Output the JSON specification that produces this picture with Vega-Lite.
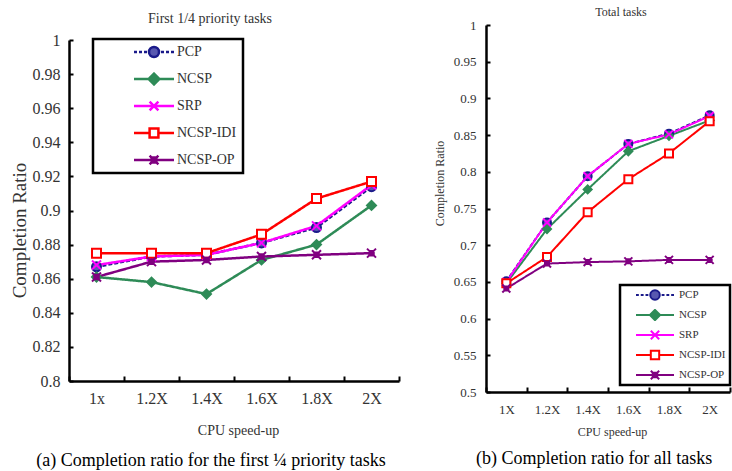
{
  "$schema": "https://vega.github.io/schema/vega-lite/v6.json",
  "padding": {"left": 10, "top": 6, "right": 0, "bottom": 0},
  "spacing": 33,
  "align": "each",
  "center": true,
  "datasets": {
    "a": [
      {"speed": "1x", "series": "PCP", "value": 0.867},
      {"speed": "1x", "series": "NCSP", "value": 0.861},
      {"speed": "1x", "series": "SRP", "value": 0.868},
      {"speed": "1x", "series": "NCSP-IDI", "value": 0.875},
      {"speed": "1x", "series": "NCSP-OP", "value": 0.861},
      {"speed": "1.2X", "series": "PCP", "value": 0.873},
      {"speed": "1.2X", "series": "NCSP", "value": 0.858},
      {"speed": "1.2X", "series": "SRP", "value": 0.873},
      {"speed": "1.2X", "series": "NCSP-IDI", "value": 0.875},
      {"speed": "1.2X", "series": "NCSP-OP", "value": 0.870},
      {"speed": "1.4X", "series": "PCP", "value": 0.874},
      {"speed": "1.4X", "series": "NCSP", "value": 0.851},
      {"speed": "1.4X", "series": "SRP", "value": 0.874},
      {"speed": "1.4X", "series": "NCSP-IDI", "value": 0.875},
      {"speed": "1.4X", "series": "NCSP-OP", "value": 0.871},
      {"speed": "1.6X", "series": "PCP", "value": 0.881},
      {"speed": "1.6X", "series": "NCSP", "value": 0.871},
      {"speed": "1.6X", "series": "SRP", "value": 0.881},
      {"speed": "1.6X", "series": "NCSP-IDI", "value": 0.886},
      {"speed": "1.6X", "series": "NCSP-OP", "value": 0.873},
      {"speed": "1.8X", "series": "PCP", "value": 0.890},
      {"speed": "1.8X", "series": "NCSP", "value": 0.880},
      {"speed": "1.8X", "series": "SRP", "value": 0.891},
      {"speed": "1.8X", "series": "NCSP-IDI", "value": 0.907},
      {"speed": "1.8X", "series": "NCSP-OP", "value": 0.874},
      {"speed": "2X", "series": "PCP", "value": 0.914},
      {"speed": "2X", "series": "NCSP", "value": 0.903},
      {"speed": "2X", "series": "SRP", "value": 0.915},
      {"speed": "2X", "series": "NCSP-IDI", "value": 0.917},
      {"speed": "2X", "series": "NCSP-OP", "value": 0.875}
    ],
    "b": [
      {"speed": "1X", "series": "PCP", "value": 0.651},
      {"speed": "1X", "series": "NCSP", "value": 0.648},
      {"speed": "1X", "series": "SRP", "value": 0.650},
      {"speed": "1X", "series": "NCSP-IDI", "value": 0.648},
      {"speed": "1X", "series": "NCSP-OP", "value": 0.641},
      {"speed": "1.2X", "series": "PCP", "value": 0.731},
      {"speed": "1.2X", "series": "NCSP", "value": 0.722},
      {"speed": "1.2X", "series": "SRP", "value": 0.731},
      {"speed": "1.2X", "series": "NCSP-IDI", "value": 0.684},
      {"speed": "1.2X", "series": "NCSP-OP", "value": 0.675},
      {"speed": "1.4X", "series": "PCP", "value": 0.794},
      {"speed": "1.4X", "series": "NCSP", "value": 0.776},
      {"speed": "1.4X", "series": "SRP", "value": 0.794},
      {"speed": "1.4X", "series": "NCSP-IDI", "value": 0.745},
      {"speed": "1.4X", "series": "NCSP-OP", "value": 0.677},
      {"speed": "1.6X", "series": "PCP", "value": 0.838},
      {"speed": "1.6X", "series": "NCSP", "value": 0.828},
      {"speed": "1.6X", "series": "SRP", "value": 0.838},
      {"speed": "1.6X", "series": "NCSP-IDI", "value": 0.790},
      {"speed": "1.6X", "series": "NCSP-OP", "value": 0.678},
      {"speed": "1.8X", "series": "PCP", "value": 0.852},
      {"speed": "1.8X", "series": "NCSP", "value": 0.849},
      {"speed": "1.8X", "series": "SRP", "value": 0.851},
      {"speed": "1.8X", "series": "NCSP-IDI", "value": 0.825},
      {"speed": "1.8X", "series": "NCSP-OP", "value": 0.680},
      {"speed": "2X", "series": "PCP", "value": 0.877},
      {"speed": "2X", "series": "NCSP", "value": 0.870},
      {"speed": "2X", "series": "SRP", "value": 0.876},
      {"speed": "2X", "series": "NCSP-IDI", "value": 0.869},
      {"speed": "2X", "series": "NCSP-OP", "value": 0.680}
    ]
  },
  "config": {
    "view": {"stroke": null},
    "font": "Liberation Serif",
    "axis": {"grid": false, "domainColor": "#000", "domainWidth": 2.5, "tickColor": "#000", "tickWidth": 2, "labelFont": "Liberation Serif", "titleFont": "Liberation Serif", "titleFontWeight": "normal", "labelColor": "#333", "titleColor": "#333"},
    "legend": {"strokeWidth": 2.5, "labelFont": "Liberation Serif", "labelColor": "#333"},
    "title": {"font": "Liberation Serif", "fontWeight": "normal"}
  },
  "hconcat": [
    {
      "title": {"text": "(a) Completion ratio for the first ¼  priority tasks", "orient": "bottom", "anchor": "middle", "frame": "bounds", "fontSize": 18, "font": "Liberation Serif", "color": "#000", "offset": 15, "dx": 6},
      "vconcat": [
        {
          "width": 330,
          "height": 341,
          "title": {"text": ["", "First 1/4 priority tasks"], "fontSize": 14, "font": "Liberation Serif", "lineHeight": 6, "offset": 6, "color": "#333", "anchor": "middle", "frame": "bounds", "dx": 5},
          "data": {"name": "a"},
          "encoding": {
            "x": {"field": "speed", "type": "nominal", "scale": {"domain": ["1x", "1.2X", "1.4X", "1.6X", "1.8X", "2X"]},
              "axis": {"title": "CPU speed-up", "labelAngle": 0, "tickBand": "extent", "tickSize": -5, "labelPadding": 14, "labelFontSize": 16, "labelFont": "Liberation Serif", "titleFont": "Liberation Serif", "titleFontSize": 14, "titleX": 169, "titleY": 49, "titleBaseline": "middle"}},
            "y": {"field": "value", "type": "quantitative", "scale": {"domain": [0.8, 1], "nice": false, "zero": false},
              "axis": {"title": "Completion Ratio", "values": [0.8, 0.82, 0.84, 0.86, 0.88, 0.9, 0.92, 0.94, 0.96, 0.98, 1], "format": "~g", "tickSize": -4, "labelPadding": 13, "labelFontSize": 16, "labelFont": "Liberation Serif", "titleFont": "Liberation Serif", "titleFontSize": 19, "titleX": -50, "titleY": 190, "titleBaseline": "middle", "titleAlign": "center", "titleAngle": 270}}
          },
          "layer": [
            {"mark": {"type": "line", "strokeWidth": 2.5},
              "encoding": {
                "stroke": {"field": "series", "type": "nominal", "scale": {"domain": ["PCP", "NCSP", "SRP", "NCSP-IDI", "NCSP-OP"], "range": ["#1a1a8a", "#2e8b57", "#ff00ff", "#ff0000", "#800080"]}, "legend": null},
                "strokeDash": {"field": "series", "type": "nominal", "scale": {"domain": ["PCP", "NCSP", "SRP", "NCSP-IDI", "NCSP-OP"], "range": [[4, 2], [1, 0], [1, 0], [1, 0], [1, 0]]}, "legend": null}
              }},
            {"mark": {"type": "point", "filled": true, "strokeWidth": 2, "size": 81, "opacity": 1},
              "encoding": {
                "stroke": {"field": "series", "type": "nominal", "scale": {"domain": ["PCP", "NCSP", "SRP", "NCSP-IDI", "NCSP-OP"], "range": ["#1a1a8a", "#2e8b57", "#ff00ff", "#ff0000", "#800080"]}, "legend": null},
                "fill": {"field": "series", "type": "nominal", "scale": {"domain": ["PCP", "NCSP", "SRP", "NCSP-IDI", "NCSP-OP"], "range": ["#5858b0", "#2e8b57", "#ff00ff", "#ffffff", "#800080"]}, "legend": null},
                "shape": {"field": "series", "type": "nominal", "scale": {"domain": ["PCP", "NCSP", "SRP", "NCSP-IDI", "NCSP-OP"], "range": ["circle", "diamond", "M-1,-1L1,1M-1,1L1,-1", "square", "M-1,-1L1,1M-1,1L1,-1M-0.5,-0.5H0.5V0.5H-0.5Z"]}, "legend": null}
              }},
            {"mark": {"type": "point", "filled": true, "strokeWidth": 2.5, "size": 1, "opacity": 0},
              "encoding": {
                "stroke": {"field": "series", "type": "nominal", "scale": {"domain": ["PCP", "NCSP", "SRP", "NCSP-IDI", "NCSP-OP"], "range": ["#1a1a8a", "#2e8b57", "#ff00ff", "#ff0000", "#800080"]},
                  "legend": {"orient": "none", "legendX": 24, "legendY": -1, "title": null, "padding": 6, "symbolSize": 1600, "symbolStrokeWidth": 2.5, "symbolOpacity": 1, "symbolOffset": 33.5, "labelFont": "Liberation Serif", "labelFontSize": 14, "labelOffset": 1.5, "clipHeight": 14, "rowPadding": 13, "strokeColor": "#000", "labelColor": "#333"}},
                "fill": {"field": "series", "type": "nominal", "scale": {"domain": ["PCP", "NCSP", "SRP", "NCSP-IDI", "NCSP-OP"], "range": ["#5858b0", "#2e8b57", "#ff00ff", "#ffffff", "#800080"]},
                  "legend": {"orient": "none", "legendX": 24, "legendY": -1, "title": null, "padding": 6, "symbolSize": 1600, "symbolStrokeWidth": 2.5, "symbolOpacity": 1, "symbolOffset": 33.5, "labelFont": "Liberation Serif", "labelFontSize": 14, "labelOffset": 1.5, "clipHeight": 14, "rowPadding": 13, "strokeColor": "#000", "labelColor": "#333"}},
                "shape": {"field": "series", "type": "nominal", "scale": {"domain": ["PCP", "NCSP", "SRP", "NCSP-IDI", "NCSP-OP"], "range": [
                  "M5.7,0M-1,0H-0.85M-0.75,0H-0.6M-0.5,0H-0.35M0.35,0H0.5M0.6,0H0.75M0.85,0H1M0.25,0A0.25,0.25,0,1,1,-0.25,0A0.25,0.25,0,1,1,0.25,0Z",
                  "M5.7,0M-1,0H1M0,-0.27L0.27,0L0,0.27L-0.27,0Z",
                  "M5.7,0M-1,0H1M-0.22,-0.22L0.22,0.22M-0.22,0.22L0.22,-0.22",
                  "M5.7,0M-1,0H-0.22M0.22,0H1M-0.22,-0.22H0.22V0.22H-0.22Z",
                  "M5.7,0M-1,0H1M-0.22,-0.22L0.22,0.22M-0.22,0.22L0.22,-0.22M-0.12,-0.12H0.12V0.12H-0.12Z"]},
                  "legend": {"orient": "none", "legendX": 24, "legendY": -1, "title": null, "padding": 6, "symbolSize": 1600, "symbolStrokeWidth": 2.5, "symbolOpacity": 1, "symbolOffset": 33.5, "labelFont": "Liberation Serif", "labelFontSize": 14, "labelOffset": 1.5, "clipHeight": 14, "rowPadding": 13, "strokeColor": "#000", "labelColor": "#333"}}
              }}
          ],
          "resolve": {"scale": {"stroke": "independent", "fill": "independent", "shape": "independent", "strokeDash": "independent"}}
        }
      ]
    },
    {
      "title": {"text": ["(b) Completion ratio for all tasks", ""], "lineHeight": 17, "orient": "bottom", "anchor": "middle", "frame": "bounds", "fontSize": 18, "font": "Liberation Serif", "color": "#000", "offset": 13, "dx": 12},
      "vconcat": [
        {
          "width": 244,
          "height": 367,
          "title": {"text": "Total tasks", "fontSize": 12, "font": "Liberation Serif", "offset": 0, "color": "#333", "anchor": "middle", "frame": "group", "dx": 13},
          "data": {"name": "b"},
          "encoding": {
            "x": {"field": "speed", "type": "nominal", "scale": {"domain": ["1X", "1.2X", "1.4X", "1.6X", "1.8X", "2X"]},
              "axis": {"title": "CPU speed-up", "labelAngle": 0, "tickBand": "extent", "tickSize": -5, "labelPadding": 16, "labelFontSize": 13, "labelFont": "Liberation Serif", "titleFont": "Liberation Serif", "titleFontSize": 12, "titleX": 126, "titleY": 39, "titleBaseline": "middle"}},
            "y": {"field": "value", "type": "quantitative", "scale": {"domain": [0.5, 1], "nice": false, "zero": false},
              "axis": {"title": "Completion Ratio", "values": [0.5, 0.55, 0.6, 0.65, 0.7, 0.75, 0.8, 0.85, 0.9, 0.95, 1], "format": "~g", "tickSize": -4, "labelPadding": 14, "labelFontSize": 13, "labelFont": "Liberation Serif", "titleFont": "Liberation Serif", "titleFontSize": 12, "titleX": -47, "titleY": 158, "titleBaseline": "middle", "titleAlign": "center", "titleAngle": 270}}
          },
          "layer": [
            {"mark": {"type": "line", "strokeWidth": 2},
              "encoding": {
                "stroke": {"field": "series", "type": "nominal", "scale": {"domain": ["PCP", "NCSP", "SRP", "NCSP-IDI", "NCSP-OP"], "range": ["#1a1a8a", "#2e8b57", "#ff00ff", "#ff0000", "#800080"]}, "legend": null},
                "strokeDash": {"field": "series", "type": "nominal", "scale": {"domain": ["PCP", "NCSP", "SRP", "NCSP-IDI", "NCSP-OP"], "range": [[4, 2], [1, 0], [1, 0], [1, 0], [1, 0]]}, "legend": null}
              }},
            {"mark": {"type": "point", "filled": true, "strokeWidth": 2, "size": 64, "opacity": 1},
              "encoding": {
                "stroke": {"field": "series", "type": "nominal", "scale": {"domain": ["PCP", "NCSP", "SRP", "NCSP-IDI", "NCSP-OP"], "range": ["#1a1a8a", "#2e8b57", "#ff00ff", "#ff0000", "#800080"]}, "legend": null},
                "fill": {"field": "series", "type": "nominal", "scale": {"domain": ["PCP", "NCSP", "SRP", "NCSP-IDI", "NCSP-OP"], "range": ["#5858b0", "#2e8b57", "#ff00ff", "#ffffff", "#800080"]}, "legend": null},
                "shape": {"field": "series", "type": "nominal", "scale": {"domain": ["PCP", "NCSP", "SRP", "NCSP-IDI", "NCSP-OP"], "range": ["circle", "diamond", "M-1,-1L1,1M-1,1L1,-1", "square", "M-1,-1L1,1M-1,1L1,-1M-0.5,-0.5H0.5V0.5H-0.5Z"]}, "legend": null}
              }},
            {"mark": {"type": "point", "filled": true, "strokeWidth": 2, "size": 1, "opacity": 0},
              "encoding": {
                "stroke": {"field": "series", "type": "nominal", "scale": {"domain": ["PCP", "NCSP", "SRP", "NCSP-IDI", "NCSP-OP"], "range": ["#1a1a8a", "#2e8b57", "#ff00ff", "#ff0000", "#800080"]},
                  "legend": {"orient": "none", "legendX": 134, "legendY": 260, "title": null, "padding": 4, "symbolSize": 1444, "symbolStrokeWidth": 2, "symbolOpacity": 1, "symbolOffset": 11, "labelFont": "Liberation Serif", "labelFontSize": 11, "labelOffset": 4, "clipHeight": 12, "rowPadding": 8, "strokeColor": "#000", "labelColor": "#333"}},
                "fill": {"field": "series", "type": "nominal", "scale": {"domain": ["PCP", "NCSP", "SRP", "NCSP-IDI", "NCSP-OP"], "range": ["#5858b0", "#2e8b57", "#ff00ff", "#ffffff", "#800080"]},
                  "legend": {"orient": "none", "legendX": 134, "legendY": 260, "title": null, "padding": 4, "symbolSize": 1444, "symbolStrokeWidth": 2, "symbolOpacity": 1, "symbolOffset": 11, "labelFont": "Liberation Serif", "labelFontSize": 11, "labelOffset": 4, "clipHeight": 12, "rowPadding": 8, "strokeColor": "#000", "labelColor": "#333"}},
                "shape": {"field": "series", "type": "nominal", "scale": {"domain": ["PCP", "NCSP", "SRP", "NCSP-IDI", "NCSP-OP"], "range": [
                  "M-1,0H-0.85M-0.75,0H-0.6M-0.5,0H-0.35M0.35,0H0.5M0.6,0H0.75M0.85,0H1M0.25,0A0.25,0.25,0,1,1,-0.25,0A0.25,0.25,0,1,1,0.25,0Z",
                  "M-1,0H1M0,-0.27L0.27,0L0,0.27L-0.27,0Z",
                  "M-1,0H1M-0.22,-0.22L0.22,0.22M-0.22,0.22L0.22,-0.22",
                  "M-1,0H-0.22M0.22,0H1M-0.22,-0.22H0.22V0.22H-0.22Z",
                  "M-1,0H1M-0.22,-0.22L0.22,0.22M-0.22,0.22L0.22,-0.22M-0.12,-0.12H0.12V0.12H-0.12Z"]},
                  "legend": {"orient": "none", "legendX": 134, "legendY": 260, "title": null, "padding": 4, "symbolSize": 1444, "symbolStrokeWidth": 2, "symbolOpacity": 1, "symbolOffset": 11, "labelFont": "Liberation Serif", "labelFontSize": 11, "labelOffset": 4, "clipHeight": 12, "rowPadding": 8, "strokeColor": "#000", "labelColor": "#333"}}
              }}
          ],
          "resolve": {"scale": {"stroke": "independent", "fill": "independent", "shape": "independent", "strokeDash": "independent"}}
        }
      ]
    }
  ]
}
